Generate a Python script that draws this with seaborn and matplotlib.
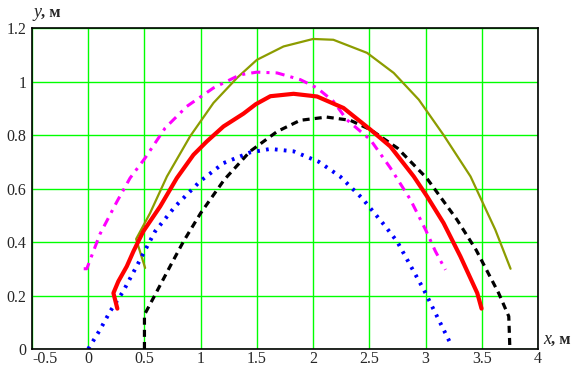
import pandas as pd
import seaborn as sns
import matplotlib.pyplot as plt

# curves
red_x = [0.259, 0.224, 0.268, 0.343, 0.402, 0.49, 0.64, 0.788, 0.936, 1.055, 1.203, 1.381,
         1.49, 1.62, 1.826, 2.035, 2.27, 2.51, 2.687, 2.895, 3.014, 3.16, 3.31, 3.46, 3.498]
red_y = [0.151, 0.209, 0.253, 0.309, 0.365, 0.44, 0.533, 0.639, 0.726, 0.776, 0.832, 0.88,
         0.915, 0.945, 0.954, 0.944, 0.901, 0.82, 0.757, 0.645, 0.57, 0.471, 0.346, 0.209, 0.151]

blue_x = [0.0, 0.105, 0.194, 0.31, 0.43, 0.595, 0.773, 0.995, 1.203, 1.44, 1.62, 1.826,
          2.05, 2.24, 2.435, 2.63, 2.747, 2.984, 3.22]
blue_y = [0.0, 0.072, 0.14, 0.215, 0.309, 0.44, 0.533, 0.627, 0.695, 0.735, 0.748, 0.739,
          0.70, 0.645, 0.564, 0.465, 0.402, 0.222, 0.022]

black_x = [0.5, 0.5, 0.595, 0.728, 0.847, 1.0, 1.21, 1.44, 1.68, 1.886, 2.12, 2.33, 2.51,
           2.75, 3.01, 3.28, 3.45, 3.65, 3.74, 3.75]
black_y = [0.0, 0.128, 0.203, 0.309, 0.402, 0.508, 0.633, 0.739, 0.813, 0.855, 0.867, 0.855,
           0.82, 0.751, 0.639, 0.483, 0.37, 0.209, 0.122, 0.0]

magenta_x = [-0.04, -0.013, 0.105, 0.254, 0.372, 0.506, 0.684, 0.877, 1.114, 1.35, 1.50,
             1.68, 1.886, 2.035, 2.18, 2.30, 2.51, 2.687, 2.866, 3.0, 3.088, 3.177]
magenta_y = [0.30, 0.30, 0.43, 0.55, 0.639, 0.714, 0.826, 0.907, 0.976, 1.025, 1.035,
             1.032, 1.007, 0.976, 0.926, 0.857, 0.782, 0.677, 0.558, 0.446, 0.365, 0.296]

olive_x = [0.506, 0.426, 0.55, 0.70, 0.906, 1.114, 1.322, 1.50, 1.737, 2.0, 2.18, 2.48,
           2.717, 2.94, 3.16, 3.40, 3.62, 3.756]
olive_y = [0.303, 0.411, 0.508, 0.645, 0.795, 0.92, 1.013, 1.081, 1.131, 1.159, 1.156, 1.107,
           1.032, 0.932, 0.80, 0.645, 0.446, 0.30]

x_ticks = [-0.5, 0, 0.5, 1, 1.5, 2, 2.5, 3, 3.5, 4]
x_labels = ['-0.5', '0', '0.5', '1', '1.5', '2', '2.5', '3', '3.5', '4']
y_ticks = [0, 0.2, 0.4, 0.6, 0.8, 1.0, 1.2]
y_labels = ['0', '0.2', '0.4', '0.6', '0.8', '1', '1.2']

sns.set_style('white')
plt.rcParams['font.family'] = ['Liberation Serif', 'DejaVu Serif']

fig = plt.figure(figsize=(5.83, 3.69), dpi=100)
ax = fig.add_axes([32 / 583, 20 / 369, 506 / 583, 321 / 369])

def curve(xs, ys, **kw):
    df = pd.DataFrame({'x': xs, 'y': ys})
    sns.lineplot(data=df, x='x', y='y', sort=False, estimator=None, ax=ax, **kw)

curve(olive_x, olive_y, color='#8c9c00', lw=1.6)
curve(magenta_x, magenta_y, color='#ff00ff', lw=2.2, linestyle=(0, (3, 2, 1, 2)))
curve(blue_x, blue_y, color='#0000ff', lw=2.8, linestyle=(0, (0.7, 1.6)))
curve(black_x, black_y, color='black', lw=2.3, linestyle=(0, (2.2, 1.6)))
curve(red_x, red_y, color='#ff0000', lw=3.0)

ax.set_xlim(-0.5, 4)
ax.set_ylim(0, 1.2)
ax.set_xticks(x_ticks)
ax.set_xticklabels(x_labels)
ax.set_yticks(y_ticks)
ax.set_yticklabels(y_labels)
ax.tick_params(length=0, labelsize=11.5, pad=1.5)
ax.tick_params(axis='y', pad=4)
ax.get_xticklabels()[0].set_horizontalalignment('left')
ax.grid(True, color='#00ff00', lw=1)
ax.set_axisbelow(True)
ax.set_xlabel('')
ax.set_ylabel('')
for s in ax.spines.values():
    s.set_color('black')
    s.set_linewidth(1.2)

fig.text(33 / 583, 1 - 17 / 369, 'y', style='italic', fontsize=13, va='baseline')
fig.text(41 / 583, 1 - 17 / 369, ', м', fontsize=12, fontweight='bold', va='baseline')
fig.text(543 / 583, 1 - 344 / 369, 'x', style='italic', fontsize=13, va='baseline')
fig.text(551 / 583, 1 - 344 / 369, ', м', fontsize=12, fontweight='bold', va='baseline')

fig.savefig('out.png', dpi=100)
